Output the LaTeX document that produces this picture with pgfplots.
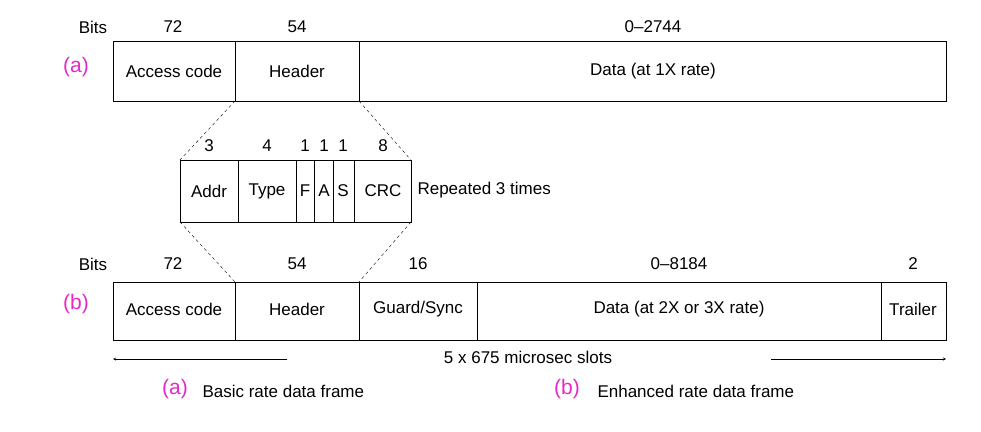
\documentclass[border=0pt]{standalone}
\usepackage{pgfplots}
\pgfplotsset{compat=1.18}
\usepackage{fontspec}
\setmainfont{Liberation Sans}
\definecolor{mag}{RGB}{230,40,200}
\begin{document}
\begin{tikzpicture}[font=\fontsize{17}{20}\selectfont]
\begin{axis}[scale only axis, width=981pt, height=431pt, xmin=0, xmax=981, ymin=0, ymax=431, y dir=reverse, axis lines=none, clip=false]
% row a
\addplot[black, thin] coordinates {(113,41)(946,41)(946,101)(113,101)(113,41)};
\addplot[black, thin] coordinates {(235,41)(235,101)};
\addplot[black, thin] coordinates {(359,41)(359,101)};
% middle
\addplot[black, thin] coordinates {(180,160)(411,160)(411,222)(180,222)(180,160)};
\addplot[black, thin] coordinates {(238,160)(238,222)};
\addplot[black, thin] coordinates {(296,160)(296,222)};
\addplot[black, thin] coordinates {(314,160)(314,222)};
\addplot[black, thin] coordinates {(333,160)(333,222)};
\addplot[black, thin] coordinates {(354,160)(354,222)};
\addplot[black, thin, dashed] coordinates {(235,101)(180,160)};
\addplot[black, thin, dashed] coordinates {(359,101)(411,160)};
\addplot[black, thin, dashed] coordinates {(180,222)(235,282)};
\addplot[black, thin, dashed] coordinates {(411,222)(359,282)};
% row b
\addplot[black, thin] coordinates {(113,282)(946,282)(946,340)(113,340)(113,282)};
\addplot[black, thin] coordinates {(235,282)(235,340)};
\addplot[black, thin] coordinates {(359,282)(359,340)};
\addplot[black, thin] coordinates {(477,282)(477,340)};
\addplot[black, thin] coordinates {(881,282)(881,340)};
% arrows
\addplot[black, thin, -stealth] coordinates {(287,359)(113,359)};
\addplot[black, thin, -stealth] coordinates {(771,359)(946,359)};
% texts row a
\node at (axis cs:93,27) {Bits};
\node at (axis cs:173,27) {72};
\node at (axis cs:297,27) {54};
\node at (axis cs:653,27) {0--2744};
\node[mag, font=\fontsize{21}{24}\selectfont] at (axis cs:76,67) {(a)};
\node at (axis cs:174,71) {Access code};
\node at (axis cs:297,71) {Header};
\node at (axis cs:653,71) {Data (at 1X rate)};
% middle texts
\node at (axis cs:209,146) {3};
\node at (axis cs:267,146) {4};
\node at (axis cs:305,146) {1};
\node at (axis cs:324,146) {1};
\node at (axis cs:343,146) {1};
\node at (axis cs:383,146) {8};
\node at (axis cs:209,191) {Addr};
\node at (axis cs:267,191) {Type};
\node at (axis cs:305,191) {F};
\node at (axis cs:324,191) {A};
\node at (axis cs:343,191) {S};
\node at (axis cs:383,191) {CRC};
\node[anchor=west] at (axis cs:414,190) {Repeated 3 times};
% row b texts
\node at (axis cs:93,264) {Bits};
\node at (axis cs:173,264) {72};
\node at (axis cs:297,264) {54};
\node at (axis cs:418,264) {16};
\node at (axis cs:679,264) {0--8184};
\node at (axis cs:913,264) {2};
\node[mag, font=\fontsize{21}{24}\selectfont] at (axis cs:76,304) {(b)};
\node at (axis cs:174,309) {Access code};
\node at (axis cs:297,309) {Header};
\node at (axis cs:418,309) {Guard/Sync};
\node at (axis cs:679,309) {Data (at 2X or 3X rate)};
\node at (axis cs:913,309) {Trailer};
\node at (axis cs:528,357) {5 x 675 microsec slots};
% legend
\node[mag, font=\fontsize{21}{24}\selectfont] at (axis cs:175,389) {(a)};
\node[anchor=west] at (axis cs:199,391) {Basic rate data frame};
\node[mag, font=\fontsize{21}{24}\selectfont] at (axis cs:567,389) {(b)};
\node[anchor=west] at (axis cs:594,391) {Enhanced rate data frame};
\end{axis}
\pgfresetboundingbox
\path (current axis.south west) rectangle (current axis.north east);
\end{tikzpicture}
\end{document}
